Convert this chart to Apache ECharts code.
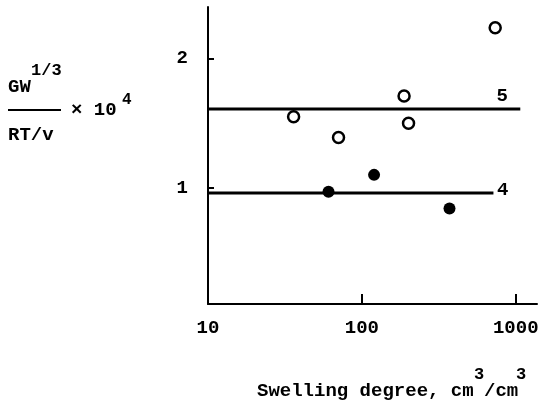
<!DOCTYPE html>
<html><head><meta charset="utf-8">
<script src="https://cdn.jsdelivr.net/npm/echarts@6/dist/echarts.min.js"></script>
<style>html,body{margin:0;padding:0;background:#fff}#c{width:545px;height:408px}</style>
</head><body><div id="c"></div>
<script>
var xTicks = [10, 100, 1000];
var yTicks = [1, 2];
var openX = [36, 70.5, 188, 201, 735];
var openY = [1.55, 1.39, 1.71, 1.50, 2.24];
var filledX = [60.7, 120, 371];
var filledY = [0.97, 1.10, 0.84];
var line5X = [10, 1070];
var line5Y = [1.61, 1.61];
var line4X = [10, 716];
var line4Y = [0.96, 0.96];
var lineNames = ['5', '4'];

var F = '"Liberation Mono", "DejaVu Sans Mono", monospace';
function pairs(xs, ys){ return xs.map(function(x,i){ return [x, ys[i]]; }); }
function lineData(xs, ys, name, labelCfg){
  var d = pairs(xs, ys).map(function(p){ return {value:p}; });
  d[d.length-1].label = Object.assign({show:true, formatter:name, color:'#000', fontFamily:F, fontWeight:'bold', fontSize:19}, labelCfg);
  return d;
}
function txt(x, y, s, size){
  return {type:'text', left:x, top:y, style:{text:s, fontFamily:F, fontWeight:'bold', fontSize:size, fill:'#000'}};
}

var chart = echarts.init(document.getElementById('c'), null, {renderer:'canvas'});
chart.setOption({
  animation:false,
  backgroundColor:'#fff',
  grid:{left:208, top:7, right:8, bottom:104},
  xAxis:{
    type:'log', min:10, max:1374, logBase:10,
    axisLine:{show:true, lineStyle:{color:'#000', width:2}},
    axisTick:{show:true, inside:true, length:10, lineStyle:{color:'#000', width:2}, customValues:[100,1000]},
    axisLabel:{show:true, customValues:xTicks, formatter:function(v){return String(Math.round(v));}, color:'#000', fontFamily:F, fontWeight:'bold', fontSize:19, margin:15},
    splitLine:{show:false}, minorTick:{show:false}
  },
  yAxis:{
    type:'value', min:0.1, max:2.4,
    axisLine:{show:true, lineStyle:{color:'#000', width:2}},
    axisTick:{show:true, inside:true, length:6, lineStyle:{color:'#000', width:2}, customValues:yTicks},
    axisLabel:{show:true, customValues:yTicks, color:'#000', fontFamily:F, fontWeight:'bold', fontSize:19, margin:20},
    splitLine:{show:false}
  },
  series:[
    {type:'line', data:lineData(line5X, line5Y, lineNames[0], {position:'top', offset:[-18,2]}), symbol:'circle', symbolSize:1, showSymbol:true, itemStyle:{color:'rgba(0,0,0,0)'}, lineStyle:{color:'#000', width:3}, z:2},
    {type:'line', data:lineData(line4X, line4Y, lineNames[1], {position:'right', offset:[-2,-3]}), symbol:'circle', symbolSize:1, showSymbol:true, itemStyle:{color:'rgba(0,0,0,0)'}, lineStyle:{color:'#000', width:3}, z:2},
    {type:'scatter', data:pairs(openX, openY), symbol:'circle', symbolSize:11, itemStyle:{color:'#fff', borderColor:'#000', borderWidth:2.5, opacity:1}, z:3},
    {type:'scatter', data:pairs(filledX, filledY), symbol:'circle', symbolSize:12, itemStyle:{color:'#000', opacity:1}, z:3}
  ],
  graphic:[
    txt(8, 78, 'GW', 19),
    txt(31, 62, '1/3', 17),
    {type:'rect', shape:{x:8, y:109, width:53, height:2}, style:{fill:'#000'}},
    txt(71, 101, '\u00d7 10', 19),
    txt(122, 92, '4', 16),
    txt(8, 126, 'RT/v', 19),
    txt(257, 382, 'Swelling degree, cm', 19),
    txt(474, 366, '3', 17),
    txt(484, 382, '/cm', 19),
    txt(516, 366, '3', 17)
  ]
});
</script></body></html>
